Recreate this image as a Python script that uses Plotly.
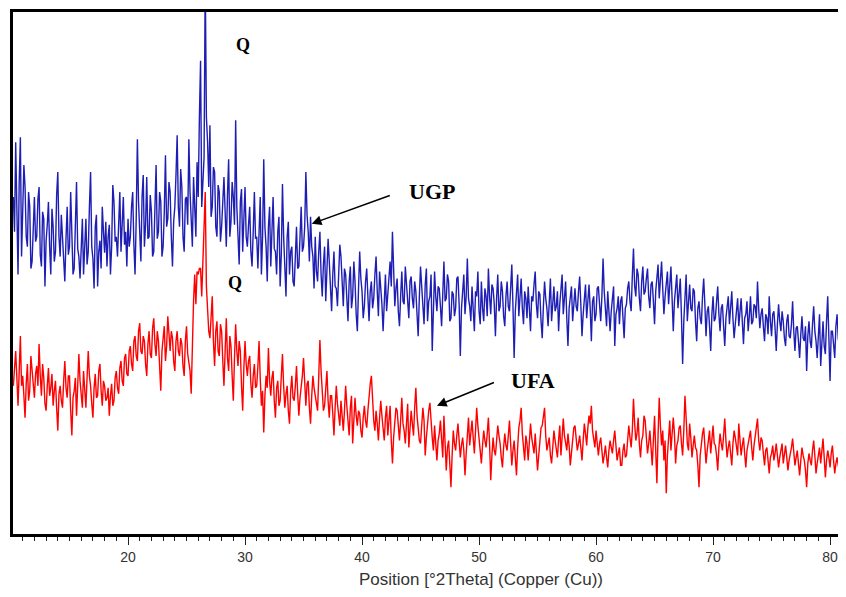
import numpy as np
import plotly.graph_objects as go

# Scan grid (instrument step)
two_theta_start = 10.2
two_theta_step = 0.1

# UGP intensities (arbitrary counts), rows of 2 degrees (10.2-12.1, 12.2-14.1, ...)
ugp_counts = [
    340, 305, 395, 330, 262, 355, 400, 280, 318, 372, 350, 300, 290, 345, 330, 268, 275, 320, 340, 295,
    300, 338, 350, 282, 270, 325, 318, 250, 296, 312, 335, 290, 262, 328, 310, 275, 285, 342, 365, 300,
    280, 322, 300, 270, 255, 298, 330, 282, 290, 345, 308, 262, 268, 315, 355, 288, 280, 258, 300, 318,
    262, 295, 318, 272, 285, 330, 365, 290, 278, 248, 310, 322, 250, 285, 296, 268, 330, 305, 284, 315,
    270, 300, 312, 262, 290, 352, 335, 295, 300, 280, 322, 345, 285, 310, 340, 292, 305, 270, 318, 290,
    300, 330, 345, 292, 262, 318, 398, 335, 310, 275, 340, 362, 290, 312, 360, 298, 300, 342, 325, 280,
    285, 320, 372, 298, 305, 345, 335, 280, 290, 325, 382, 310, 318, 355, 345, 300, 270, 315, 330, 362,
    402, 330, 310, 368, 350, 300, 285, 338, 340, 312, 398, 345, 318, 290, 360, 325, 300, 375, 340, 420,
    477, 330, 350, 380, 560, 420, 395, 350, 412, 320, 330, 370, 365, 310, 300, 352, 345, 295, 310, 340,
    360, 325, 290, 342, 378, 300, 315, 355, 340, 312, 417, 330, 300, 272, 335, 348, 285, 318, 350, 300,
    290, 312, 330, 285, 270, 305, 345, 298, 300, 268, 320, 340, 262, 300, 378, 310, 290, 255, 310, 330,
    270, 305, 340, 288, 285, 262, 305, 320, 250, 282, 353, 300, 275, 240, 300, 315, 262, 285, 290, 255,
    250, 282, 310, 268, 270, 300, 330, 285, 290, 310, 365, 322, 305, 275, 320, 290, 280, 248, 300, 265,
    255, 285, 305, 262, 240, 272, 290, 235, 262, 298, 275, 245, 225, 262, 285, 250, 248, 230, 260, 292,
    280, 250, 230, 268, 262, 238, 215, 255, 270, 228, 240, 275, 255, 222, 205, 248, 285, 258, 245, 218,
    230, 255, 268, 240, 215, 245, 255, 228, 238, 262, 280, 245, 220, 265, 250, 232, 205, 240, 262, 225,
    240, 262, 275, 250, 305, 268, 230, 248, 258, 225, 210, 240, 265, 235, 232, 270, 250, 228, 218, 255,
    260, 238, 228, 255, 245, 222, 200, 240, 270, 250, 232, 212, 252, 268, 215, 235, 240, 262, 185, 230,
    265, 240, 225, 250, 248, 230, 210, 242, 275, 235, 238, 262, 255, 215, 218, 245, 242, 220, 228, 258,
    260, 232, 180, 228, 245, 262, 222, 240, 278, 238, 230, 215, 250, 232, 205, 245, 240, 265, 225, 212,
    255, 228, 215, 248, 240, 220, 268, 240, 222, 252, 248, 232, 200, 238, 262, 225, 230, 255, 245, 220,
    210, 240, 255, 230, 225, 248, 272, 230, 178, 225, 240, 262, 220, 235, 258, 228, 212, 245, 238, 218,
    250, 228, 205, 240, 235, 252, 265, 232, 218, 245, 242, 215, 198, 230, 255, 238, 228, 210, 240, 258,
    215, 235, 250, 225, 230, 245, 205, 232, 245, 262, 222, 240, 255, 218, 190, 228, 238, 250, 215, 232,
    248, 230, 225, 245, 260, 232, 200, 222, 235, 252, 218, 240, 252, 228, 195, 235, 240, 215, 222, 248,
    250, 232, 215, 240, 278, 245, 230, 210, 245, 228, 205, 225, 238, 250, 190, 222, 228, 240, 212, 235,
    240, 218, 198, 228, 232, 248, 255, 235, 225, 260, 288, 250, 240, 268, 262, 238, 225, 255, 270, 242,
    245, 258, 268, 240, 228, 252, 255, 235, 212, 245, 260, 272, 238, 262, 275, 248, 222, 240, 250, 265,
    232, 255, 270, 238, 205, 235, 248, 262, 228, 245, 258, 220, 172, 215, 240, 262, 215, 238, 252, 228,
    225, 248, 245, 215, 195, 228, 235, 218, 212, 240, 258, 232, 200, 225, 230, 210, 185, 222, 240, 215,
    218, 235, 250, 222, 205, 228, 232, 210, 190, 218, 228, 240, 212, 225, 245, 218, 198, 212, 225, 238,
    210, 225, 238, 215, 192, 218, 222, 235, 205, 220, 240, 212, 215, 232, 230, 218, 255, 228, 208, 222,
    228, 210, 195, 222, 218, 202, 240, 215, 200, 222, 225, 208, 185, 212, 232, 215, 205, 225, 215, 198,
    190, 215, 222, 200, 198, 212, 235, 205, 185, 208, 210, 195, 178, 202, 220, 198, 195, 210, 165, 200,
    215, 195, 188, 212, 230, 205, 195, 178, 208, 222, 170, 200, 215, 190, 182, 215, 240, 198, 155, 205,
    205, 192, 178, 210, 222, 198, 190,
]

# UFA intensities (arbitrary counts)
ufa_counts = [
    150, 170, 185, 158, 130, 165, 200, 150, 160, 140, 118, 152, 172, 135, 145, 180, 165, 148, 138, 162,
    170, 150, 192, 160, 140, 172, 158, 132, 125, 150, 168, 140, 148, 162, 130, 145, 155, 128, 105, 142,
    150, 135, 128, 155, 175, 148, 138, 160, 160, 125, 100, 138, 145, 158, 120, 150, 182, 155, 140, 128,
    165, 142, 128, 158, 185, 160, 150, 132, 118, 148, 162, 138, 140, 165, 172, 145, 130, 155, 150, 135,
    138, 148, 120, 140, 152, 130, 135, 158, 165, 148, 142, 168, 175, 155, 150, 178, 182, 162, 160, 185,
    190, 172, 165, 195, 200, 180, 175, 205, 213, 185, 182, 200, 195, 172, 160, 192, 205, 182, 178, 208,
    218, 192, 180, 205, 195, 170, 145, 185, 200, 210, 175, 190, 220, 198, 185, 205, 198, 175, 165, 195,
    205, 185, 180, 198, 192, 170, 160, 195, 210, 182, 175, 165, 142, 210, 235, 262, 232, 265, 262, 268,
    268, 240, 272, 300, 345, 250, 225, 205, 198, 220, 240, 195, 170, 205, 215, 185, 180, 212, 205, 175,
    150, 185, 218, 178, 165, 200, 190, 160, 135, 178, 212, 185, 170, 195, 185, 150, 125, 168, 195, 172,
    160, 175, 180, 152, 138, 160, 172, 148, 150, 170, 195, 158, 130, 145, 103, 140, 160, 148, 188, 155,
    140, 158, 165, 135, 118, 148, 155, 130, 135, 160, 182, 150, 128, 142, 150, 125, 112, 145, 160, 138,
    135, 150, 170, 142, 120, 138, 148, 160, 178, 145, 130, 152, 155, 128, 112, 140, 160, 148, 140, 128,
    125, 160, 196, 165, 145, 125, 130, 150, 165, 135, 118, 140, 140, 122, 100, 128, 150, 132, 122, 110,
    135, 118, 105, 125, 150, 130, 115, 100, 128, 140, 92, 115, 138, 120, 110, 125, 122, 105, 98, 118,
    130, 115, 108, 125, 140, 152, 160, 128, 115, 105, 125, 112, 95, 118, 135, 120, 105, 95, 118, 130,
    100, 118, 130, 95, 72, 98, 112, 128, 125, 108, 95, 115, 138, 112, 105, 92, 120, 132, 88, 108,
    125, 112, 100, 128, 148, 120, 110, 95, 92, 108, 128, 115, 80, 98, 115, 125, 133, 110, 98, 85,
    110, 92, 75, 95, 102, 115, 88, 78, 120, 98, 65, 88, 95, 72, 48, 80, 105, 92, 85, 100,
    112, 95, 78, 90, 98, 85, 60, 82, 108, 118, 90, 102, 115, 98, 82, 105, 128, 110, 95, 78,
    72, 90, 105, 95, 88, 102, 118, 92, 55, 80, 98, 85, 80, 95, 110, 100, 92, 78, 68, 88,
    102, 90, 85, 100, 115, 92, 70, 85, 95, 78, 60, 88, 108, 115, 128, 102, 88, 75, 100, 92,
    75, 95, 112, 98, 90, 82, 102, 88, 65, 80, 95, 108, 110, 118, 128, 100, 85, 92, 98, 80,
    72, 88, 105, 95, 88, 78, 96, 110, 80, 98, 117, 100, 92, 85, 102, 90, 70, 85, 98, 108,
    110, 98, 85, 92, 100, 88, 75, 95, 112, 102, 90, 108, 120, 112, 130, 105, 95, 88, 105, 92,
    80, 92, 98, 85, 72, 80, 90, 78, 68, 85, 95, 88, 82, 95, 105, 90, 75, 82, 88, 70,
    70, 85, 92, 78, 80, 95, 110, 98, 88, 105, 137, 112, 95, 102, 118, 92, 78, 95, 100, 120,
    115, 98, 82, 92, 105, 88, 70, 95, 120, 85, 52, 100, 138, 110, 90, 105, 75, 95, 42, 80,
    100, 115, 85, 98, 118, 102, 72, 90, 95, 108, 110, 92, 80, 105, 140, 118, 92, 85, 112, 98,
    78, 90, 100, 88, 85, 70, 48, 80, 95, 102, 108, 90, 72, 85, 98, 105, 82, 95, 110, 92,
    90, 80, 65, 88, 102, 92, 85, 100, 117, 95, 78, 88, 95, 82, 70, 92, 105, 98, 88, 80,
    112, 95, 80, 90, 98, 82, 68, 85, 92, 100, 105, 88, 75, 90, 100, 108, 117, 95, 85, 98,
    95, 82, 70, 85, 88, 75, 62, 78, 82, 90, 75, 82, 92, 80, 68, 78, 85, 92, 72, 80,
    90, 78, 65, 75, 80, 88, 97, 82, 70, 78, 85, 72, 60, 75, 88, 80, 75, 65, 48, 72,
    82, 75, 70, 85, 95, 80, 62, 72, 80, 88, 72, 85, 97, 78, 58, 75, 85, 78, 68, 82,
    90, 75, 62, 72, 78, 70, 65,
]

tick_values = [20, 30, 40, 50, 60, 70, 80]
tick_labels = ["20", "30", "40", "50", "60", "70", "80"]
x_title = "Position [°2Theta] (Copper (Cu))"

ugp_theta = two_theta_start + two_theta_step * np.arange(len(ugp_counts))
ufa_theta = two_theta_start + two_theta_step * np.arange(len(ufa_counts))

fig = go.Figure()
fig.add_trace(go.Scatter(x=ugp_theta, y=ugp_counts, mode="lines",
                         line=dict(color="rgb(30,30,180)", width=1.4),
                         name="UGP", showlegend=False))
fig.add_trace(go.Scatter(x=ufa_theta, y=ufa_counts, mode="lines",
                         line=dict(color="rgb(255,0,0)", width=1.4),
                         name="UFA", showlegend=False))

serif = "Liberation Serif, Times New Roman, serif"
ann = [
    dict(x=29.83, y=493, text="<b>Q</b>", showarrow=False,
         font=dict(family=serif, size=18, color="black")),
    dict(x=29.15, y=253, text="<b>Q</b>", showarrow=False,
         font=dict(family=serif, size=18, color="black")),
    dict(x=46.0, y=345, text="<b>UGP</b>", showarrow=False,
         font=dict(family=serif, size=22, color="black")),
    dict(x=54.6, y=155, text="<b>UFA</b>", showarrow=False,
         font=dict(family=serif, size=22, color="black")),
    dict(x=35.7, y=313, ax=42.5, ay=342, axref="x", ayref="y",
         xref="x", yref="y", text="", showarrow=True,
         arrowhead=2, arrowsize=1.3, arrowwidth=1.5, arrowcolor="black"),
    dict(x=46.4, y=130, ax=51.4, ay=154, axref="x", ayref="y",
         xref="x", yref="y", text="", showarrow=True,
         arrowhead=2, arrowsize=1.3, arrowwidth=1.5, arrowcolor="black"),
    dict(x=50.2, y=-0.088, xref="x", yref="paper", text=x_title,
         showarrow=False, yanchor="middle",
         font=dict(family="Liberation Sans, Arial, sans-serif", size=17,
                   color="#333333")),
]

# The page body has an 8px default margin, so margins are offset by it.
fig.update_layout(
    width=846, height=597,
    margin=dict(l=5, r=14, t=1, b=71),
    plot_bgcolor="white", paper_bgcolor="white",
    annotations=ann,
    xaxis=dict(range=[10.17, 80.85], showgrid=False, zeroline=False,
               showline=True, linewidth=3, linecolor="black", mirror=True,
               ticks="outside", ticklen=8, tickwidth=1.2, tickcolor="#222",
               tickvals=tick_values, ticktext=tick_labels,
               tickfont=dict(family="Liberation Sans, Arial, sans-serif",
                             size=14, color="#333333"),
               minor=dict(dtick=1, ticks="outside", ticklen=4,
                          tickwidth=1, tickcolor="#222", showgrid=False)),
    yaxis=dict(range=[1, 526], showgrid=False, zeroline=False,
               showline=True, linewidth=3, linecolor="black", mirror=True,
               showticklabels=False, ticks=""),
)

fig.write_html("out.html")
